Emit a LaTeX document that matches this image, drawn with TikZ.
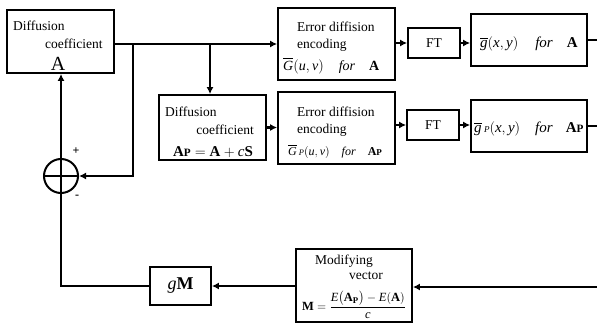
\documentclass[tikz,border=0pt]{standalone}
\usepackage{amsmath}
\usepackage{fontspec}
\setmainfont{Liberation Serif}
\usetikzlibrary{arrows.meta,calc}
\newcommand\iv[1]{\text{\itshape #1}}
\newcommand\bsub[1]{\text{\scalebox{0.75}{\bfseries #1}}}
\tikzset{
  box/.style={draw, line width=1.8pt, inner sep=0pt},
  conn/.style={line width=2.8pt},
  arr/.style={conn, -{Latex[length=7pt,width=7pt]}},
  txt/.style={inner sep=0pt, font=\fontsize{13.5}{15}\selectfont},
}
\begin{document}
\begin{tikzpicture}[x=1pt,y=-1pt]
\useasboundingbox (0,0) rectangle (597,324);
% boxes
\node[box, minimum width=107pt, minimum height=63pt] (A) at (60.5,41.5) {};
\node[box, minimum width=107pt, minimum height=65pt] (Ap) at (212.5,127.5) {};
\node[box, minimum width=117pt, minimum height=72pt] (E1) at (336.5,44) {};
\node[box, minimum width=117pt, minimum height=72pt] (E2) at (336.5,128) {};
\node[box, minimum width=52pt, minimum height=30pt, font=\fontsize{13.5}{15}\selectfont] (F1) at (434,43) {FT};
\node[box, minimum width=52pt, minimum height=30pt, font=\fontsize{13.5}{15}\selectfont] (F2) at (433,125) {FT};
\node[box, minimum width=116pt, minimum height=52pt] (G1) at (529,40) {};
\node[box, minimum width=116pt, minimum height=52pt] (G2) at (529,126) {};
\node[box, minimum width=116pt, minimum height=73pt] (Mod) at (354,285.5) {};
\node[box, minimum width=61pt, minimum height=38pt, font=\fontsize{18}{20}\selectfont] (gM) at (180.5,286) {$\iv{g}\mathbf{M}$};
\node[draw, circle, line width=2pt, minimum size=34pt, inner sep=0pt] (S) at (61,176) {};
% texts
\node[txt, anchor=base west] (tA1) at (13,30) {Diffusion};
\node[txt, anchor=base west] (tA2) at (45,48) {coefficient};
\node[inner sep=0pt, anchor=base, font=\fontsize{20}{22}\selectfont] (tA3) at (58,70) {A};
\node[txt, anchor=base west] (tP1) at (165,116) {Diffusion};
\node[txt, anchor=base east] (tP2) at (254,134) {coefficient};
\node[inner sep=0pt, anchor=base, font=\fontsize{15}{17}\selectfont] (tP3) at (213,156) {$\mathbf{A}\bsub{P} = \mathbf{A} + \iv{c}\mathbf{S}$};
\node[txt, anchor=base west] (e11) at (297,31) {Error diffision};
\node[txt, anchor=base west] (e12) at (297,48) {encoding};
\node[inner sep=0pt, anchor=base west, font=\fontsize{14}{16}\selectfont] (e13) at (283,70) {$\overline{\iv{G}}(\iv{u},\iv{v})$\hspace{15pt}\textit{for}\hspace{14pt}$\mathbf{A}$};
\node[txt, anchor=base west] (e21) at (297,116) {Error diffision};
\node[txt, anchor=base west] (e22) at (297,133) {encoding};
\node[inner sep=0pt, anchor=base west, font=\fontsize{12}{14}\selectfont] (e23) at (288,155) {$\overline{\iv{G}}\,\text{\scalebox{0.7}{\itshape P}}(\iv{u},\iv{v})$\hspace{12pt}\textit{for}\hspace{12pt}$\mathbf{A}\bsub{P}$};
\node[inner sep=0pt, anchor=base west, font=\fontsize{15}{17}\selectfont] (g1t) at (480,47) {$\overline{\iv{g}}(\iv{x},\iv{y})$\hspace{17pt}\textit{for}\hspace{14pt}$\mathbf{A}$};
\node[inner sep=0pt, anchor=base west, font=\fontsize{15}{17}\selectfont] (g2t) at (474,132) {$\overline{\iv{g}}\,\text{\scalebox{0.6}{\itshape P}}(\iv{x},\iv{y})$\hspace{15pt}\textit{for}\hspace{13pt}$\mathbf{A}\bsub{P}$};
\node[txt, anchor=base west] (m1) at (315,264) {Modifying};
\node[txt, anchor=base west] (m2) at (349,279) {vector};
\node[inner sep=0pt, font=\fontsize{12.5}{14}\selectfont] (m3) at (354,305) {$\mathbf{M}=\dfrac{\iv{E}\bigl(\mathbf{A}_{\mathbf{P}}\bigr)-\iv{E}(\mathbf{A})}{\iv{c}}$};
\node[inner sep=0pt, font=\fontsize{12}{14}\selectfont\bfseries] (plus) at (76,151) {+};
\node[inner sep=0pt, font=\fontsize{12}{14}\selectfont\bfseries] (minus) at (77,197) {-};
% coordinates
\coordinate (b1) at (133,44);
\coordinate (b2) at (210,44);
\coordinate (r1) at (597,40);
\coordinate (r2) at (597,126);
\coordinate (r3) at (597,287);
% connectors
\draw[arr] (A.east |- b1) -- (E1.west |- b1);
\draw[arr] (b1) |- (S.east);
\draw[arr] (b2) -- (b2 |- Ap.north);
\draw[arr] (Ap.east) -- (E2.west |- Ap.east);
\draw[arr] (E1.east |- F1.west) -- (F1.west);
\draw[arr] (E2.east |- F2.west) -- (F2.west);
\draw[arr] (F1.east) -- (F1.east -| G1.west);
\draw[arr] (F2.east) -- (F2.east -| G2.west);
\draw[conn] (G1.east) -- (r1);
\draw[conn] (G2.east) -- (r2);
\draw[arr] (r3) -- (r3 -| Mod.east);
\draw[arr] (Mod.west |- gM.east) -- (gM.east);
\draw[conn] (gM.west) -| (S.south);
\draw[arr] (S.north) -- (A.south -| S.north);
\draw[line width=2pt] (S.north) -- (S.south) (S.west) -- (S.east);
\end{tikzpicture}
\end{document}
